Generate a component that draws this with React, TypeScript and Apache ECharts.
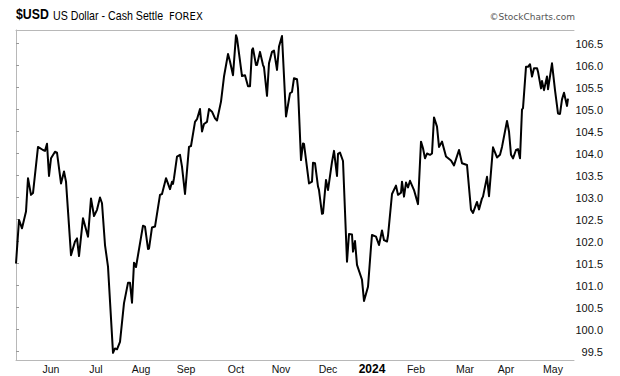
import React, { useEffect, useRef } from 'react';
import * as echarts from 'echarts';

// Session position (trading-day units from the left edge) and closing value of each turning point
const sessionIndex = [
  0, 3, 6, 10, 12, 15, 17, 22, 27, 29, 31, 33, 35, 39, 41, 45, 48, 50, 55, 59,
  61, 63, 67, 72, 75, 78, 81, 84, 86, 89, 92, 97, 99, 101, 104, 108, 112, 114, 116, 118,
  120, 127, 129, 132, 133, 136, 139, 144, 146, 150, 154, 156, 157, 158, 161, 164, 166, 169, 173, 175,
  179, 181, 184, 186, 188, 191, 193, 196, 199, 201, 205, 208, 212, 214, 217, 220, 221, 226, 229, 232,
  234, 236, 237, 240, 241, 244, 247, 248, 251, 253, 256, 258, 261, 263, 266, 270, 274, 276, 278, 281,
  282, 285, 287, 288, 293, 296, 297, 299, 302, 303, 306, 307, 310, 312, 316, 318, 321, 322, 324, 327,
  331, 333, 336, 337, 339, 341, 346, 348, 352, 355, 356, 360, 363, 366, 368, 371, 372, 376, 380, 382,
  385, 386, 388, 390, 392, 394, 398, 402, 405, 407, 409, 411, 414, 416, 418, 421, 423, 426, 430, 435,
  438, 443, 446, 451, 455, 457, 461, 463, 466, 467, 471, 473, 477, 481, 484, 486, 491, 493, 495, 497,
  500, 502, 504, 506, 507, 510, 512, 514, 516, 518, 521, 522, 525, 526, 528, 531, 532, 536, 539, 542,
  544, 546, 548, 551, 552,
];

const closes = [
  101.5, 102.49, 102.3, 102.68, 103.44, 103.06, 103.1, 104.15, 104.08, 104.06, 104.22, 103.49, 103.89, 104.04, 104.02, 103.32, 103.59, 103.36, 101.69, 102.0,
  102.07, 101.67, 102.53, 102.11, 102.98, 102.58, 102.72, 103.0, 102.87, 101.92, 101.43, 99.47, 99.57, 99.55, 99.72, 100.6, 101.06, 101.06, 100.61, 101.52,
  101.42, 102.36, 102.34, 101.83, 101.84, 102.32, 102.34, 103.06, 103.08, 103.44, 103.19, 103.36, 103.31, 103.44, 103.93, 103.97, 103.7, 103.08, 104.15, 104.17,
  104.72, 104.78, 105.01, 104.5, 104.67, 104.72, 105.01, 104.95, 104.8, 104.75, 105.18, 105.75, 106.26, 106.09, 105.78, 106.69, 106.62, 105.76, 105.78, 105.53,
  105.53, 106.35, 106.39, 106.01, 106.01, 106.31, 106.01, 105.96, 105.31, 106.05, 106.31, 106.34, 105.9, 106.43, 106.67, 104.84, 105.37, 105.4, 105.71, 105.69,
  105.48, 103.85, 104.23, 104.22, 103.32, 103.36, 103.79, 103.78, 103.25, 103.17, 102.63, 102.64, 103.4, 103.17, 103.81, 104.06, 103.49, 103.99, 104.02, 103.83,
  101.54, 102.17, 102.16, 101.77, 102.01, 101.47, 101.13, 100.65, 100.97, 101.88, 102.15, 102.11, 101.92, 102.25, 102.03, 102.0, 102.13, 103.08, 103.27, 103.06,
  103.11, 103.36, 103.02, 103.34, 103.23, 103.38, 103.17, 102.85, 104.27, 104.12, 103.89, 104.0, 103.97, 104.0, 104.82, 104.61, 104.15, 104.27, 103.93, 103.84,
  103.73, 104.08, 103.78, 103.74, 102.72, 102.65, 102.9, 102.73, 102.98, 103.02, 103.47, 103.03, 104.14, 103.91, 103.97, 104.15, 104.74, 104.5, 103.97, 103.89,
  104.08, 104.1, 103.89, 105.0, 105.03, 105.97, 105.97, 106.03, 105.75, 105.94, 105.94, 105.86, 105.48, 105.65, 105.44, 105.75, 105.46, 106.05, 105.44, 104.91,
  104.9, 105.23, 105.38, 105.08, 105.25,
];

const monthLabels = ['Jun', 'Jul', 'Aug', 'Sep', 'Oct', 'Nov', 'Dec', '2024', 'Feb', 'Mar', 'Apr', 'May'];
const monthPositions = [35, 80, 125, 170, 220, 265, 312, 356, 400, 449, 490, 537];
const priceTicks = [99.5, 100, 100.5, 101, 101.5, 102, 102.5, 103, 103.5, 104, 104.5, 105, 105.5, 106, 106.5];

const X_MIN = 0;
const X_MAX = 558;
const Y_MIN = 99.307;
const Y_MAX = 106.807;

export default function App() {
  const ref = useRef<HTMLDivElement>(null);

  useEffect(() => {
    if (!ref.current) return;
    const chart = echarts.init(ref.current, null, { renderer: 'svg' });
    const borderColor = '#b8b8b8';
    const sans = '"Liberation Sans", Arial, sans-serif';
    chart.setOption({
      animation: false,
      backgroundColor: '#ffffff',
      graphic: [
        {
          type: 'text',
          x: 16,
          y: 22,
          scaleX: 0.82,
          silent: true,
          style: { text: '$USD', font: 'bold 15px "Liberation Sans", Arial, sans-serif', fill: '#000', align: 'left', verticalAlign: 'bottom' },
        },
        {
          type: 'text',
          x: 53,
          y: 22,
          scaleX: 0.82,
          silent: true,
          style: { text: 'US Dollar - Cash Settle', font: '13px "Liberation Sans", Arial, sans-serif', fill: '#000', align: 'left', verticalAlign: 'bottom' },
        },
        {
          type: 'text',
          x: 169,
          y: 21.5,
          silent: true,
          style: { text: 'FOREX', font: '10px "DejaVu Sans", sans-serif', fill: '#000', align: 'left', verticalAlign: 'bottom' },
        },
        {
          type: 'text',
          x: 575,
          y: 21,
          silent: true,
          style: { text: '©StockCharts.com', font: '9px "DejaVu Sans", sans-serif', fill: '#555', align: 'right', verticalAlign: 'bottom' },
        },
      ],
      grid: { left: 16, right: 46, top: 30, bottom: 16, show: false },
      xAxis: [
        {
          type: 'value',
          min: X_MIN,
          max: X_MAX,
          position: 'bottom',
          axisLine: { show: true, lineStyle: { color: borderColor, width: 1 } },
          axisTick: { show: false },
          splitLine: { show: false },
          axisLabel: {
            customValues: monthPositions,
            formatter: (v: number) => {
              const i = monthPositions.indexOf(v);
              const t = i >= 0 ? monthLabels[i] : '';
              return t === '2024' ? '{y|2024}' : t;
            },
            margin: 3,
            color: '#111',
            fontFamily: sans,
            fontSize: 10.5,
            rich: { y: { fontFamily: sans, fontWeight: 'bold', fontSize: 12, color: '#000' } },
          },
        },
        {
          type: 'value',
          min: X_MIN,
          max: X_MAX,
          position: 'top',
          axisLine: { show: true, lineStyle: { color: borderColor, width: 1 } },
          axisTick: { show: false },
          axisLabel: { show: false },
          splitLine: { show: false },
        },
      ],
      yAxis: [
        {
          type: 'value',
          position: 'right',
          min: Y_MIN,
          max: Y_MAX,
          axisLine: { show: true, lineStyle: { color: borderColor, type: 'dotted', width: 1 } },
          axisTick: { show: true, customValues: priceTicks, length: 3, lineStyle: { color: '#999' } },
          splitLine: { show: false },
          axisLabel: {
            customValues: priceTicks,
            formatter: (v: number) => v.toFixed(1),
            align: 'right',
            margin: 29,
            color: '#111',
            fontFamily: sans,
            fontSize: 11,
          },
        },
        {
          type: 'value',
          position: 'left',
          min: Y_MIN,
          max: Y_MAX,
          axisLine: { show: true, lineStyle: { color: borderColor, width: 1 } },
          axisTick: { show: false },
          axisLabel: { show: false },
          splitLine: { show: false },
        },
      ],
      series: [
        {
          type: 'line',
          xAxisIndex: 0,
          yAxisIndex: 0,
          data: sessionIndex.map((x, i) => [x, closes[i]]),
          symbol: 'none',
          showSymbol: false,
          silent: true,
          lineStyle: { color: '#000', width: 2, join: 'round' },
        },
      ],
    });
    return () => chart.dispose();
  }, []);

  return <div ref={ref} style={{ position: 'absolute', left: 0, top: 0, width: 620, height: 376 }} />;
}
